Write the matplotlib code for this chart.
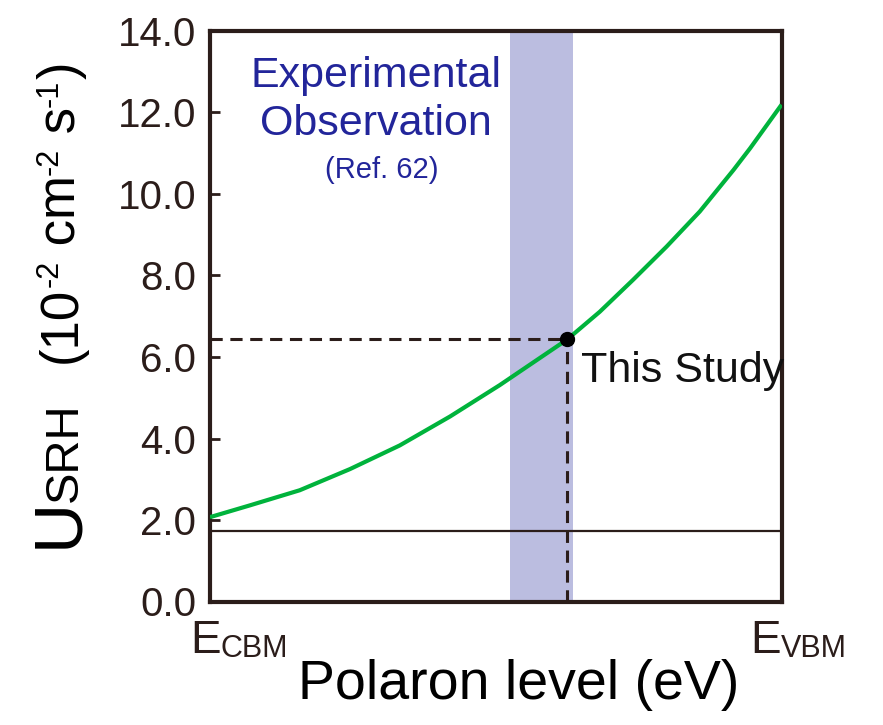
import matplotlib
matplotlib.use("Agg")
import matplotlib.pyplot as plt

# ---- data ----
level = [0.0, 0.070, 0.157, 0.245, 0.332, 0.420, 0.507, 0.625, 0.682,
         0.740, 0.799, 0.857, 0.916, 0.945, 1.0]
usrh = [2.07, 2.36, 2.73, 3.25, 3.83, 4.54, 5.31, 6.43, 7.11,
        7.89, 8.71, 9.57, 10.59, 11.12, 12.19]
study_x = 0.625
study_y = 6.43
baseline_y = 1.74
band = [0.525, 0.635]
yticks = [0, 2, 4, 6, 8, 10, 12, 14]
yticklabels = ["0.0", "2.0", "4.0", "6.0", "8.0", "10.0", "12.0", "14.0"]

W, H = 883, 725
SANS = ["Liberation Sans", "DejaVu Sans"]
plt.rcParams["font.family"] = SANS

dark = "#2b1d1a"
fig = plt.figure(figsize=(W / 100, H / 100), dpi=100)
ax = fig.add_axes([210 / W, (H - 601.5) / H, (781.5 - 210) / W, (601.5 - 31) / H])
ax.set_xlim(0, 1)
ax.set_ylim(0, 14)

ax.axvspan(band[0], band[1], color="#bbbde0", lw=0, zorder=0)
ax.axhline(baseline_y, color=dark, lw=1.6, zorder=1)
ax.plot(level, usrh, color="#00b33c", lw=3.0, zorder=3,
        solid_joinstyle="round", solid_capstyle="butt")
ax.plot([0, study_x], [study_y, study_y], color=dark, lw=2.2,
        dashes=(4, 2.5), zorder=2)
ax.plot([study_x, study_x], [0, study_y], color=dark, lw=2.2,
        dashes=(4, 2.5), zorder=2)
ax.plot([study_x], [study_y], "o", color="black", ms=10, zorder=4)

ax.text(0.650, 5.39, "This Study", fontsize=31, color="#111111",
        ha="left", va="baseline")

blue = "#22259a"
ax.text(0.290, 12.63, "Experimental", fontsize=31, color=blue,
        ha="center", va="baseline")
ax.text(0.290, 11.45, "Observation", fontsize=31, color=blue,
        ha="center", va="baseline")
ax.text(0.300, 10.39, "(Ref. 62)", fontsize=21, color=blue,
        ha="center", va="baseline")

for s in ax.spines.values():
    s.set_linewidth(3.0)
    s.set_color(dark)

ax.set_xticks([])
ax.set_yticks(yticks)
ax.set_yticklabels(yticklabels)
ax.tick_params(axis="y", direction="in", length=7, width=2, color=dark,
               labelsize=29, labelcolor=dark, pad=10)

renderer = fig.canvas.get_renderer()


def run(x, y, pieces, rot=False, color="black"):
    """Place text pieces one after another; x,y in image pixels (top-left)."""
    for text, size, rise in pieces:
        if rot:
            t = fig.text((x - rise) / W, 1 - y / H, text, fontsize=size,
                         color=color, rotation=90, rotation_mode="anchor",
                         ha="left", va="baseline")
            y -= t.get_window_extent(renderer).height
        else:
            t = fig.text(x / W, 1 - (y - rise) / H, text, fontsize=size,
                         color=color, ha="left", va="baseline")
            x += t.get_window_extent(renderer).width


# x-axis end labels
run(190, 653, [("E", 33, 0), ("CBM", 22, -4)], color=dark)
run(750, 653, [("E", 33, 0), ("VBM", 22, -4)], color=dark)

fig.text(519 / W, 1 - 699 / H, "Polaron level (eV)", fontsize=40,
         color="black", ha="center", va="baseline")

# y label (rotated pieces)
run(77, 548, [("U", 50, 0)], rot=True)
run(77, 502, [("SRH", 34, 0)], rot=True)
run(76, 363, [("(10", 38, 0), ("-2", 22, 18), (" cm", 38, 0), ("-2", 22, 18),
              (" s", 38, 0), ("-1", 22, 18), (")", 38, 0)], rot=True)

fig.savefig("out.png", dpi=100)
